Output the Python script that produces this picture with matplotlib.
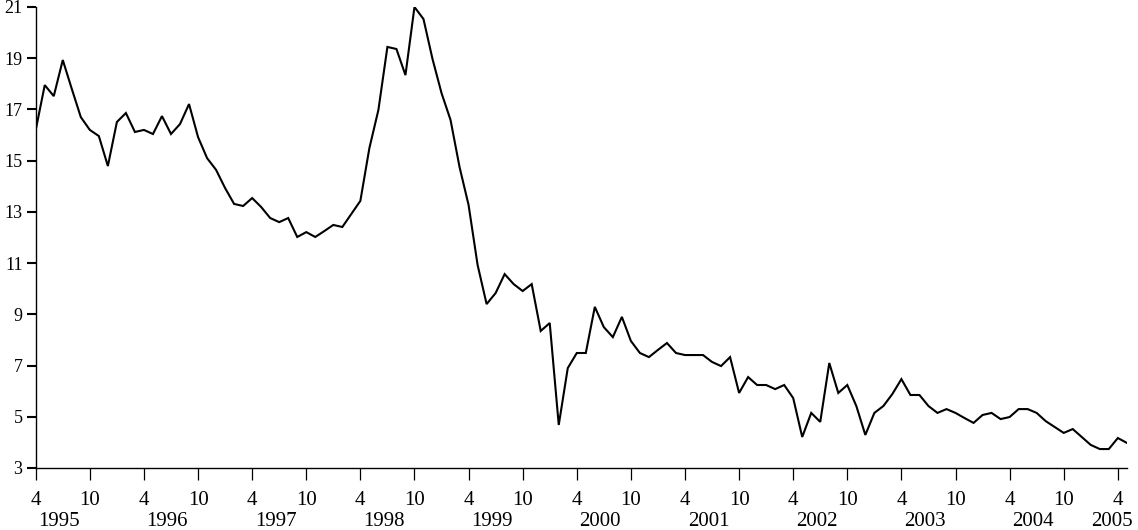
import numpy as np
import matplotlib.pyplot as plt

plt.rcParams['font.family'] = ['Liberation Serif', 'DejaVu Serif']

# monthly series, April 1995 .. May 2005
rates = [
    16.20, 17.95, 17.52, 18.93, 17.80, 16.70, 16.20, 15.96, 14.79,             # 1995 (4-12)
    16.51, 16.86, 16.12, 16.20, 16.04, 16.74, 16.04, 16.43, 17.21, 15.92, 15.10, 14.64,  # 1996
    13.93, 13.31, 13.23, 13.54, 13.19, 12.76, 12.60, 12.76, 12.02, 12.21, 12.02, 12.25,  # 1997
    12.49, 12.41, 12.92, 13.43, 15.49, 16.98, 19.44, 19.36, 18.34, 21.00, 20.53, 18.97,  # 1998
    17.64, 16.59, 14.75, 13.27, 10.93, 9.40, 9.83, 10.57, 10.18, 9.91, 10.18, 8.35,      # 1999
    8.66, 4.68, 6.90, 7.49, 7.49, 9.29, 8.50, 8.11, 8.90, 7.96, 7.49, 7.33,              # 2000
    7.61, 7.88, 7.49, 7.41, 7.41, 7.41, 7.14, 6.98, 7.33, 5.93, 6.55, 6.24,              # 2001
    6.24, 6.08, 6.24, 5.73, 4.21, 5.15, 4.80, 7.10, 5.93, 6.24, 5.42, 4.29,              # 2002
    5.15, 5.42, 5.89, 6.47, 5.85, 5.85, 5.42, 5.15, 5.30, 5.15, 4.95, 4.76,              # 2003
    5.07, 5.15, 4.91, 4.99, 5.30, 5.30, 5.15, 4.83, 4.60, 4.37, 4.52, 4.21,              # 2004
    3.90, 3.74, 3.74, 4.17, 3.98,                                                        # 2005 (1-5)
]
month_labels = ['4', '10']
years = [1995, 1996, 1997, 1998, 1999, 2000, 2001, 2002, 2003, 2004, 2005]
y_ticks = [3, 5, 7, 9, 11, 13, 15, 17, 19, 21]

x = np.arange(len(rates))

fig = plt.figure(figsize=(11.38, 5.30), dpi=100)
ax = fig.add_axes([0.0314, 0.117, 0.9588, 0.8698])
ax.plot(x, rates, color='black', lw=1.5, solid_joinstyle='miter')

ax.set_xlim(0, len(rates) - 1)
ax.set_ylim(3, 21)
ax.set_yticks(y_ticks)
ax.set_yticklabels([str(v) for v in y_ticks], fontsize=13)

tick_pos = np.arange(0, len(rates), 6)
ax.set_xticks(tick_pos)
ax.set_xticklabels([month_labels[(p // 6) % 2] for p in tick_pos], fontsize=15)

for s in ['top', 'right']:
    ax.spines[s].set_visible(False)
for s in ['left', 'bottom']:
    ax.spines[s].set_linewidth(1.0)
ax.tick_params(axis='y', length=6.5, width=1.5, pad=3)
ax.tick_params(axis='x', length=8.5, width=0.9, pad=8)

# year labels under the month ticks
for i, yr in enumerate(years):
    pos = i * 12 + 2.6
    ha = 'center'
    if pos > len(rates) - 1:
        pos = len(rates) - 0.3
        ha = 'right'
    ax.text(pos, -0.125, str(yr), transform=ax.get_xaxis_transform(),
            ha=ha, va='baseline', fontsize=15)

fig.savefig('out.png', dpi=100)
